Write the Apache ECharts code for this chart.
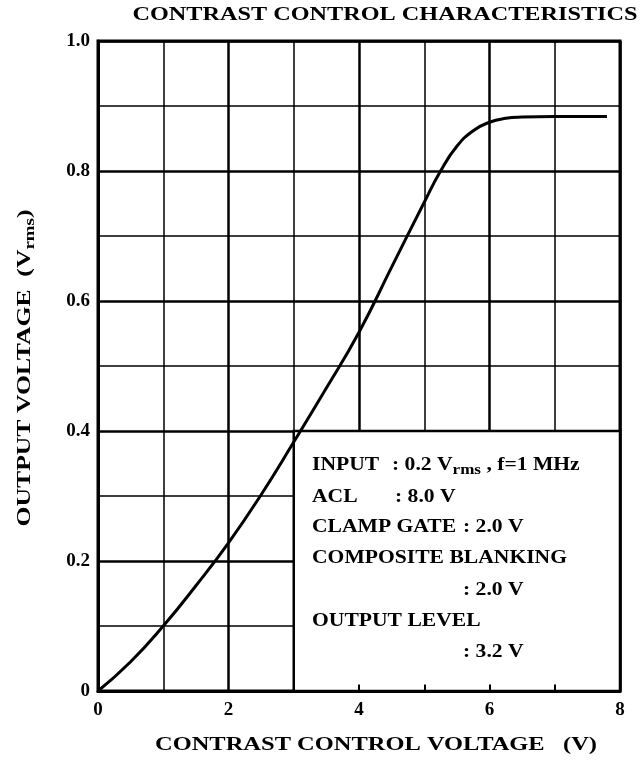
<!DOCTYPE html>
<html>
<head>
<meta charset="utf-8">
<script src="https://cdn.jsdelivr.net/npm/echarts@6/dist/echarts.min.js"></script>
<style>html,body{margin:0;padding:0;background:#fff;}#c{width:643px;height:762px;}</style>
</head>
<body>
<div id="c"></div>
<script>
// Data
const contrastVoltage = [0, 0.5, 1, 1.5, 2, 2.5, 3, 3.5, 4, 4.5, 5, 5.25, 5.5, 5.75, 6, 6.25, 6.5, 7, 7.5, 7.8];
const outputVoltage   = [0, 0.045, 0.1, 0.162, 0.228, 0.302, 0.383, 0.466, 0.552, 0.652, 0.752, 0.80, 0.838, 0.862, 0.875, 0.881, 0.883, 0.884, 0.884, 0.884];
const xTickLabels = ['0', '2', '4', '6', '8'];
const yTickLabels = ['0', '0.2', '0.4', '0.6', '0.8', '1.0'];
const boxTickX = [4, 5, 6, 7];
const titleText = 'CONTRAST CONTROL CHARACTERISTICS';
const xAxisTitle = 'CONTRAST CONTROL VOLTAGE   (V)';
const yAxisTitleMain = 'OUTPUT VOLTAGE  (V';
const yAxisTitleSub = 'rms';
const noteBox = [[3, 0.4], [8, 0]];

const FONT = '"Liberation Serif", "DejaVu Serif", serif';
const chart = echarts.init(document.getElementById('c'), null, {renderer: 'canvas'});
const curve = contrastVoltage.map((x, i) => [x, outputVoltage[i]]);

const mctx = document.createElement('canvas').getContext('2d');
function textW(t, font) { mctx.font = font; return mctx.measureText(t).width; }

const titleFont = 'bold 19px ' + FONT;
const titleScale = 505 / textW(titleText, titleFont);
const xNameScale = 442 / textW(xAxisTitle, titleFont);
const subFont = 'bold 14px ' + FONT;
const yNameW = textW(yAxisTitleMain + ')', titleFont) + textW(yAxisTitleSub, subFont);
const yNameScale = 317 / yNameW;

const noteFont = 'bold 19px ' + FONT;
const noteSubFont = 'bold 15px ' + FONT;
const noteScale = 255 / textW('COMPOSITE BLANKING', noteFont);
const inputValW = textW(': 0.2 V , f=1 MHz', noteFont) + textW('rms', noteSubFont);
const inputScale = Math.min(noteScale, 221 / inputValW);
const noteSub = {font: noteSubFont, fill: '#000', padding: [11, 0, 0, 0]};
function note(x, y, text, sc) {
  return {type: 'text', x: x, y: y, z: 100, scaleX: sc || noteScale,
    style: {text: text, font: noteFont, fill: '#000', textAlign: 'left', textVerticalAlign: 'middle', rich: {sub: noteSub}}};
}

chart.setOption({
  animation: false,
  backgroundColor: '#fff',
  grid: {left: 98, right: 23, top: 41, bottom: 71, show: true, borderColor: '#000', borderWidth: 3, backgroundColor: 'transparent'},
  xAxis: {
    type: 'value', min: 0, max: 8, interval: 2,
    axisLine: {show: true, lineStyle: {color: '#000', width: 3}},
    axisTick: {show: false},
    axisLabel: {color: '#000', fontFamily: FONT, fontWeight: 'bold', fontSize: 19, margin: 10,
      formatter: v => xTickLabels[Math.round(v / 2)]},
    splitLine: {show: true, lineStyle: {color: '#000', width: 2.5}},
    minorTick: {show: false, splitNumber: 2},
    minorSplitLine: {show: true, lineStyle: {color: '#000', width: 1.5}}
  },
  yAxis: {
    type: 'value', min: 0, max: 1, interval: 0.2,
    axisLine: {show: true, lineStyle: {color: '#000', width: 3}},
    axisTick: {show: false},
    axisLabel: {color: '#000', fontFamily: FONT, fontWeight: 'bold', fontSize: 19, margin: 8,
      formatter: v => yTickLabels[Math.round(v / 0.2)]},
    splitLine: {show: true, lineStyle: {color: '#000', width: 2.5}},
    minorTick: {show: false, splitNumber: 2},
    minorSplitLine: {show: true, lineStyle: {color: '#000', width: 1.5}}
  },
  series: [{
    type: 'line', data: [], z: 3, silent: true,
    markArea: {
      silent: true,
      itemStyle: {color: '#fff', borderColor: '#000', borderWidth: 2.5, opacity: 1},
      data: [[{coord: noteBox[0]}, {coord: noteBox[1]}]]
    }
  }, {
    type: 'line', data: curve, z: 5, smooth: 0.5,
    showSymbol: false, lineStyle: {color: '#000', width: 3},
    markLine: {
      silent: true, symbol: 'none', label: {show: false}, animation: false,
      lineStyle: {color: '#000', width: 2, type: 'solid'},
      data: boxTickX.map(x => [{coord: [x, 0]}, {coord: [x, 0.01]}])
    }
  }],
  graphic: [
    {type: 'text', x: 385, y: 15, scaleX: titleScale, z: 100,
      style: {text: titleText, font: titleFont, fill: '#000', textAlign: 'center', textVerticalAlign: 'middle'}},
    {type: 'text', x: 376, y: 745, scaleX: xNameScale, z: 100,
      style: {text: xAxisTitle, font: titleFont, fill: '#000', textAlign: 'center', textVerticalAlign: 'middle'}},
    {type: 'text', x: 25, y: 368, rotation: Math.PI / 2, scaleX: yNameScale, z: 100,
      style: {text: yAxisTitleMain + '{sub|' + yAxisTitleSub + '})', font: titleFont, fill: '#000', textAlign: 'center', textVerticalAlign: 'middle',
        rich: {sub: {font: subFont, fill: '#000', padding: [10, 0, 0, 0]}}}},
    note(312, 465, 'INPUT'),
    note(392, 465, ': 0.2 V{sub|rms} , f=1 MHz', inputScale),
    note(312, 497, 'ACL'),
    note(395, 497, ': 8.0 V'),
    note(312, 527, 'CLAMP GATE'),
    note(463, 527, ': 2.0 V'),
    note(312, 558, 'COMPOSITE BLANKING'),
    note(463, 590, ': 2.0 V'),
    note(312, 621, 'OUTPUT LEVEL'),
    note(463, 652, ': 3.2 V')
  ]
});
</script>
</body>
</html>
